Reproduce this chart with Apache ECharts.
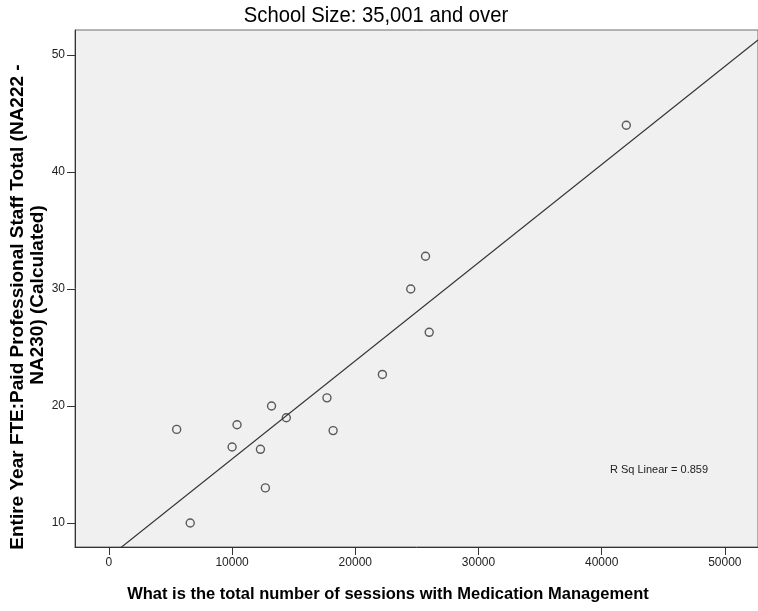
<!DOCTYPE html>
<html>
<head>
<meta charset="utf-8">
<script src="https://cdn.jsdelivr.net/npm/echarts@6/dist/echarts.min.js"></script>
<style>
html,body{margin:0;padding:0;background:#fff;}
#c{width:758px;height:611px;}
</style>
</head>
<body>
<div id="c"></div>
<script>
// ---- data ----
const xValues = [5500, 6600, 10000, 10400, 12300, 12700, 13200, 14400, 17700, 18200, 22200, 24500, 25700, 26000, 42000];
const yValues = [18, 10, 16.5, 18.4, 16.3, 13, 20, 19, 20.7, 17.9, 22.7, 30, 32.8, 26.3, 44];
const xTicks = [0, 10000, 20000, 30000, 40000, 50000];
const yTicks = [10, 20, 30, 40, 50];
const titleText = 'School Size: 35,001 and over';
const xTitle = 'What is the total number of sessions with Medication Management';
const yTitle1 = 'Entire Year FTE:Paid Professional Staff Total (NA222 -';
const yTitle2 = 'NA230) (Calculated)';
const rsqLabel = 'R Sq Linear = 0.859';

// axis extents
const X_MIN = -2753, X_MAX = 52690;
const Y_MIN = 7.95, Y_MAX = 52.14;

// least-squares fit line from data
const n = xValues.length;
const mx = xValues.reduce((a, b) => a + b, 0) / n;
const my = yValues.reduce((a, b) => a + b, 0) / n;
let sxy = 0, sxx = 0;
for (let i = 0; i < n; i++) { sxy += (xValues[i] - mx) * (yValues[i] - my); sxx += (xValues[i] - mx) ** 2; }
const slope = sxy / sxx;
const icpt = my - slope * mx;
const fitLine = [[X_MIN, icpt + slope * X_MIN], [X_MAX, icpt + slope * X_MAX]];
const points = xValues.map((x, i) => [x, yValues[i]]);

const FONT = '"Liberation Sans", Arial, sans-serif';

const chart = echarts.init(document.getElementById('c'), null, {renderer: 'canvas'});
chart.setOption({
  animation: false,
  backgroundColor: '#ffffff',
  grid: {left: 75, top: 30, width: 685, height: 517, show: true, backgroundColor: '#f0f0f0', borderColor: '#6e6e6e', borderWidth: 1, containLabel: false},
  xAxis: {
    type: 'value', min: X_MIN, max: X_MAX,
    splitLine: {show: false},
    axisLine: {show: true, onZero: false, lineStyle: {color: '#333', width: 1}},
    axisTick: {show: true, customValues: xTicks, length: 8, lineStyle: {color: '#333', width: 1}},
    axisLabel: {customValues: xTicks, fontSize: 12, color: '#222', margin: 10, fontFamily: FONT, formatter: v => String(v)}
  },
  yAxis: {
    type: 'value', min: Y_MIN, max: Y_MAX,
    splitLine: {show: false},
    axisLine: {show: true, onZero: false, lineStyle: {color: '#333', width: 1}},
    axisTick: {show: true, customValues: yTicks, length: 8, lineStyle: {color: '#333', width: 1}},
    axisLabel: {customValues: yTicks, fontSize: 12, color: '#222', margin: 10, fontFamily: FONT, formatter: v => String(v)}
  },
  series: [
    {type: 'line', data: fitLine, showSymbol: false, symbol: 'none', clip: true,
     lineStyle: {color: '#333', width: 1.2}, silent: true, z: 2},
    {type: 'scatter', data: points, symbol: 'circle', symbolSize: 8,
     itemStyle: {color: 'rgba(0,0,0,0)', borderColor: '#333', borderWidth: 1.4}, z: 3}
  ],
  graphic: [
    {type: 'text', x: 376, y: 16, scaleX: 0.92, style: {text: titleText, font: '22px ' + FONT, fill: '#000', textAlign: 'center', textVerticalAlign: 'middle'}},
    {type: 'text', x: 388, y: 594, style: {text: xTitle, font: 'bold 16.5px ' + FONT, fill: '#000', textAlign: 'center', textVerticalAlign: 'middle'}},
    {type: 'text', x: 18, y: 307, rotation: Math.PI / 2, style: {text: yTitle1, font: 'bold 19px ' + FONT, fill: '#000', textAlign: 'center', textVerticalAlign: 'middle'}},
    {type: 'text', x: 38, y: 295, rotation: Math.PI / 2, style: {text: yTitle2, font: 'bold 19px ' + FONT, fill: '#000', textAlign: 'center', textVerticalAlign: 'middle'}},
    {type: 'text', x: 659, y: 470, style: {text: rsqLabel, font: '11px ' + FONT, fill: '#222', textAlign: 'center', textVerticalAlign: 'middle'}}
  ]
});
</script>
</body>
</html>
